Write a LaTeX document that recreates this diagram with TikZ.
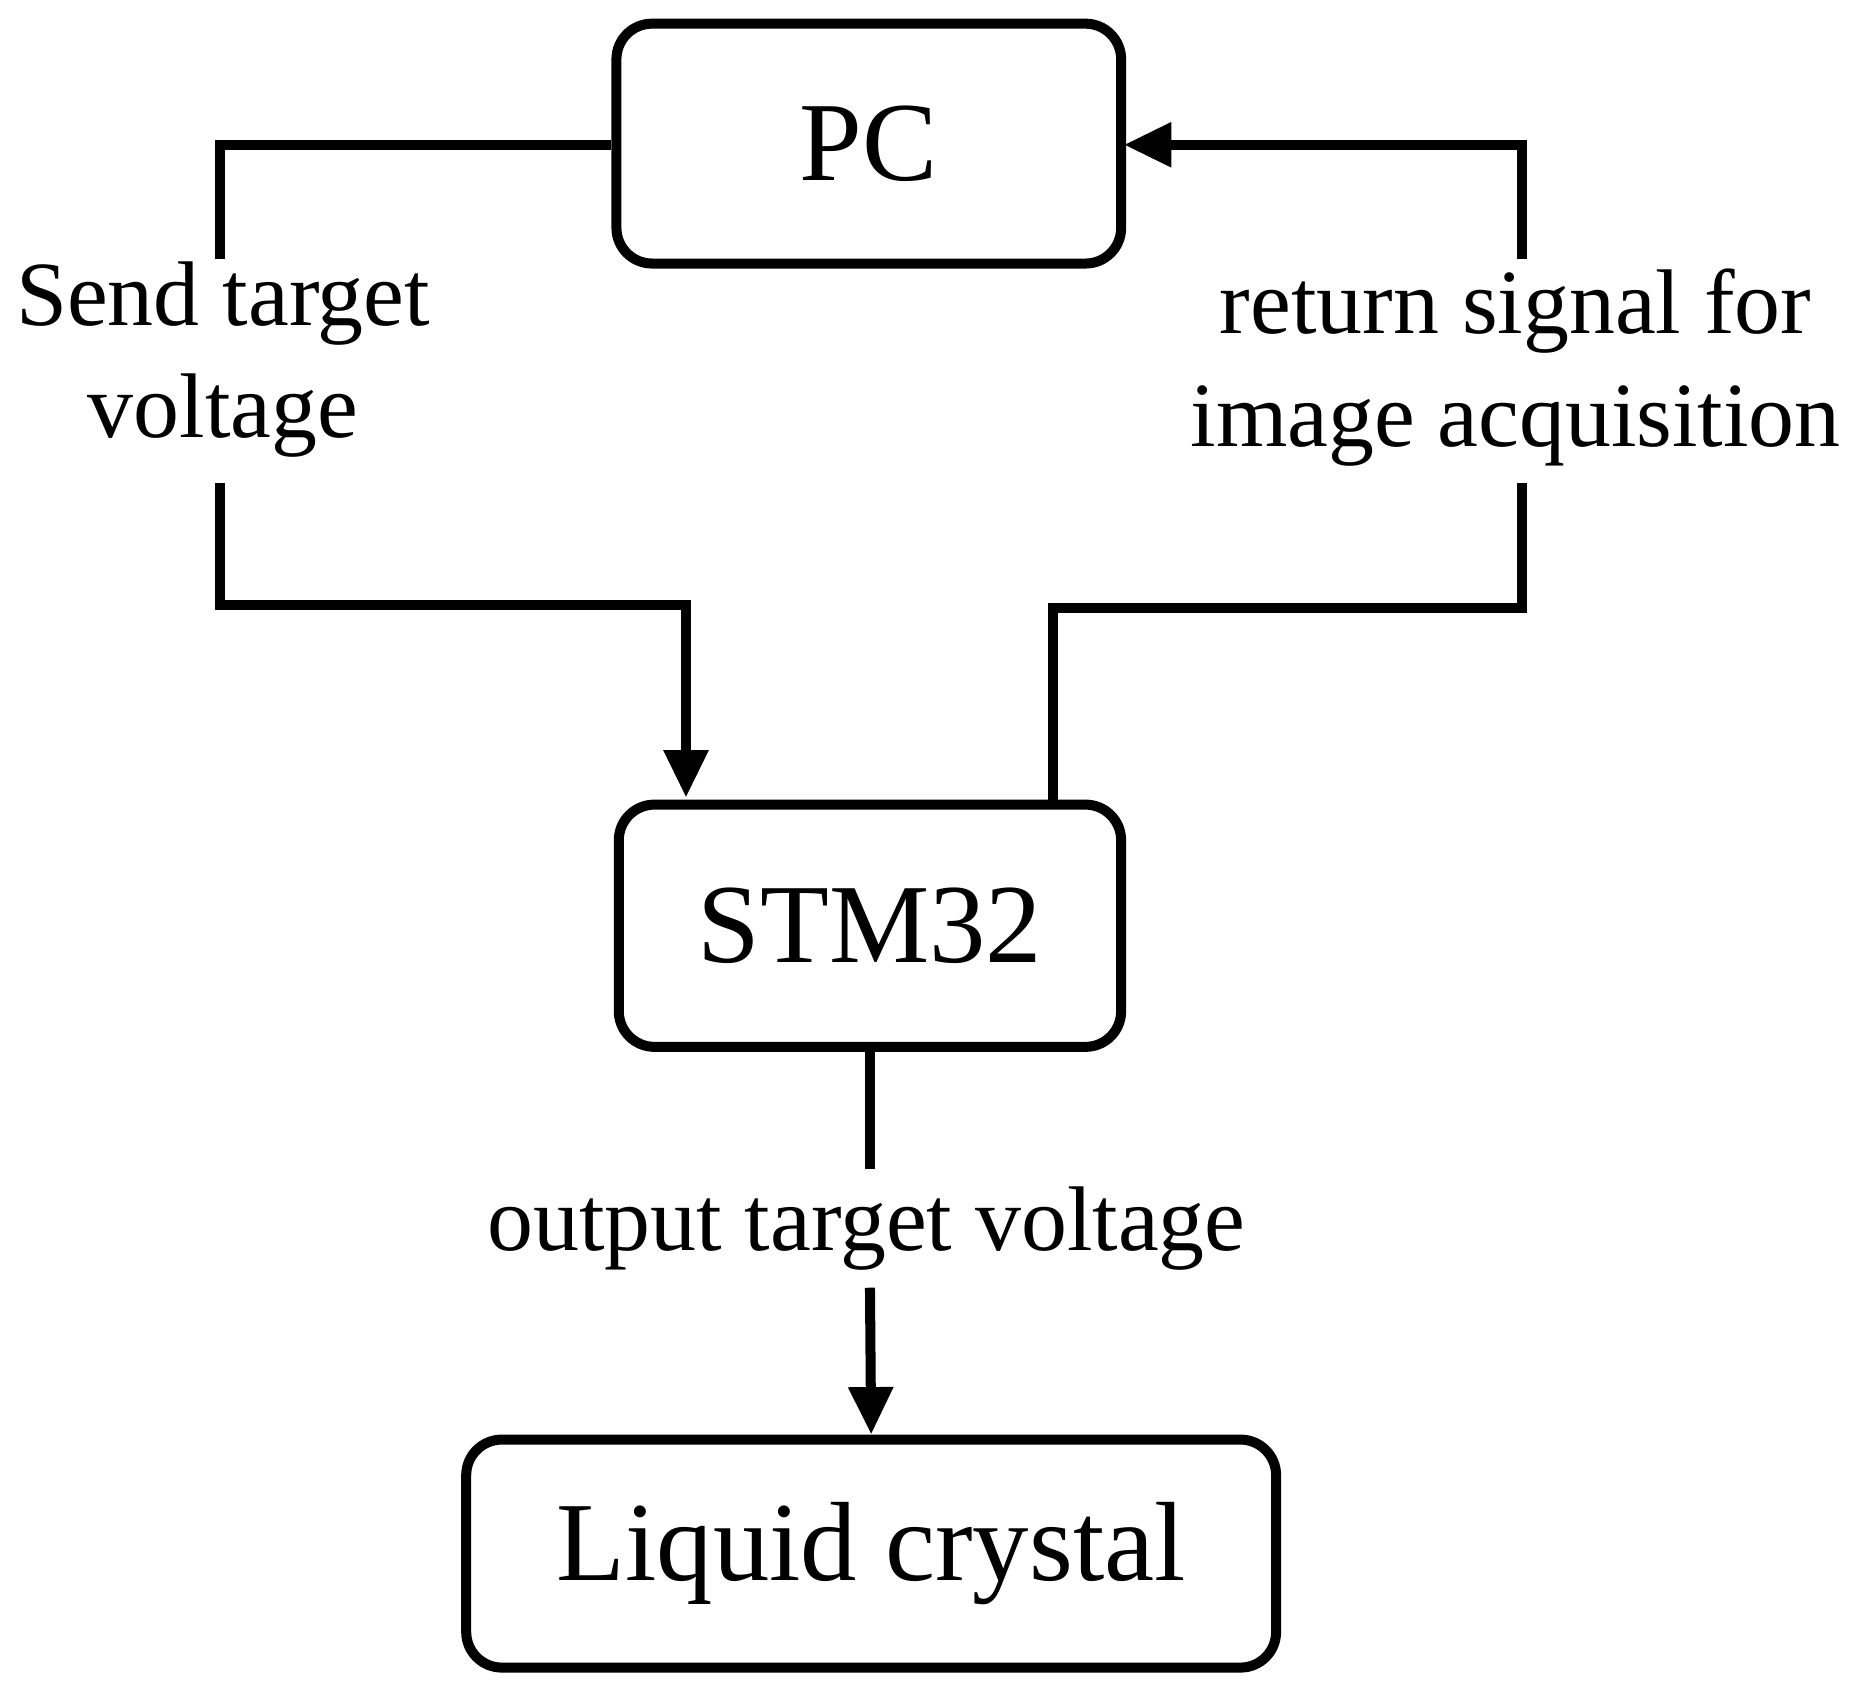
\documentclass[tikz,border=0pt]{standalone}
\usepackage{fontspec}
\setmainfont{Liberation Serif}
\usetikzlibrary{arrows.meta}
\begin{document}
\begin{tikzpicture}[x=0.01cm,y=-0.01cm,
  box/.style={draw,line width=2.4pt,rounded corners=0.3cm,inner sep=0pt,font=\fontsize{27}{32}\selectfont},
  conn/.style={line width=2.4pt},
  arr/.style={conn,-{Triangle[length=0.4cm,width=0.36cm]}},
  lab/.style={font=\fontsize{22}{27}\selectfont,align=center,inner sep=0pt}]
\useasboundingbox (0,0) rectangle (1568,1434);
\node[box,minimum width=4.25cm,minimum height=2.02cm] (pc) at (732,121) {PC};
\node[box,minimum width=4.23cm,minimum height=2.04cm] (stm) at (733,780) {STM32};
\node[box,minimum width=6.82cm,minimum height=1.92cm] (lc) at (734,1309) {Liquid crystal};
\node[lab] (l1) at (188,303) {Send target\\voltage};
\node[lab] (l2) at (1277,310) {return signal for\\image acquisition};
\node[lab] (l3) at (730,1035) {output target voltage};
\coordinate (a1) at (185,218);
\coordinate (a2) at (185,407);
\coordinate (b1) at (1282,218);
\coordinate (b2) at (1282,407);
\coordinate (c1) at (733,985);
\coordinate (c2) at (733,1085);
\draw[conn] (pc.west |- 0,122) -| (a1);
\draw[arr] (a2) |- (578,510) -- (578,672);
\draw[conn] (887,678) |- (1282,512) -- (b2);
\draw[arr] (b1) |- (947,122);
\draw[conn] (stm.south) -- (c1);
\draw[arr] (c2) -- (lc.north);
\end{tikzpicture}
\end{document}
